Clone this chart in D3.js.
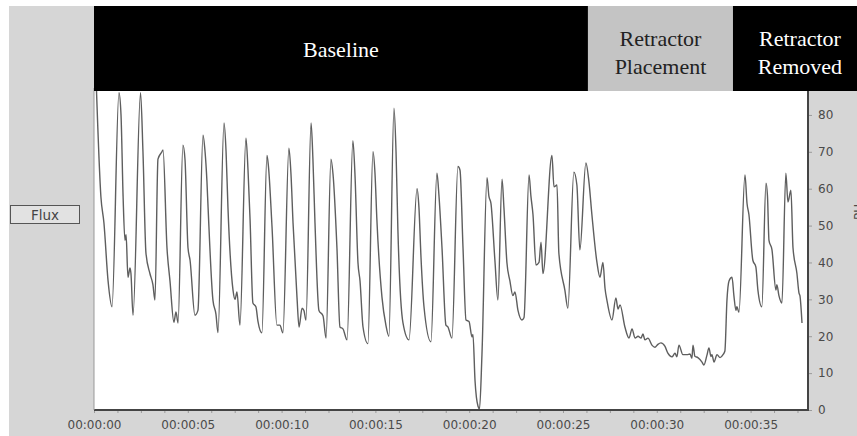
<!DOCTYPE html>
<html lang="en">
<head>
<meta charset="utf-8">
<title>Flux</title>
<style>
html,body{margin:0;padding:0;background:#fff;overflow:hidden;}
svg{display:block;}
.tick text{font-family:"DejaVu Sans",Verdana,sans-serif;font-size:12px;fill:#4a4a4a;}
.tick line{stroke:#9a9a9a;}
.domain{display:none;}
.hdr{font-family:"Liberation Serif","Times New Roman",serif;font-size:22px;}
</style>
</head>
<body>
<div id="chart"></div>
<script src="https://cdn.jsdelivr.net/npm/d3@7"></script>
<script>
/* ---------- data ---------- */
// seconds from start, flux (PU)
const timeSec = [0.11,0.37,0.53,0.75,0.96,1.33,1.44,1.55,1.65,1.71,1.81,1.92,1.97,2.08,2.48,2.61,2.77,2.98,3.14,3.25,
  3.41,3.62,3.68,3.89,4.05,4.26,4.37,4.48,4.74,4.85,5.01,5.12,5.38,5.54,5.81,5.92,6.02,6.08,6.34,6.50,
  6.61,6.93,7.04,7.14,7.41,7.52,7.62,7.78,8.10,8.21,8.32,8.47,8.63,8.74,8.95,9.22,9.30,9.49,9.75,9.91,
  10.07,10.39,10.50,10.61,10.82,10.93,11.09,11.19,11.30,11.57,11.67,11.78,11.99,12.21,12.37,12.63,12.74,12.95,13.11,13.27,
  13.49,13.80,13.91,14.07,14.18,14.34,14.60,14.87,14.98,15.08,15.35,15.56,15.72,15.99,16.10,16.20,16.47,16.79,17.22,17.32,
  17.43,17.59,17.96,18.28,18.39,18.55,18.76,18.87,19.08,19.40,19.51,19.67,19.83,19.99,20.15,20.20,20.31,20.47,20.55,20.68,
  20.95,21.05,21.16,21.37,21.53,21.75,21.85,22.01,22.17,22.33,22.44,22.60,22.81,22.92,23.19,23.29,23.40,23.56,23.72,23.83,
  23.93,24.41,24.52,24.68,24.78,25.10,25.26,25.58,25.74,25.90,26.22,26.38,26.54,26.81,26.97,27.13,27.24,27.34,27.61,27.82,
  27.93,28.04,28.30,28.52,28.68,28.84,29.00,29.16,29.26,29.37,29.53,29.74,29.90,30.06,30.22,30.43,30.59,30.81,30.97,31.07,
  31.18,31.39,31.61,31.77,31.87,31.93,32.03,32.19,32.41,32.51,32.67,32.78,32.89,32.94,33.05,33.21,33.37,33.53,33.63,33.74,
  33.85,34.01,34.11,34.22,34.27,34.38,34.70,34.81,34.91,35.12,35.28,35.39,35.60,35.82,35.90,35.98,36.14,36.35,36.40,36.51,
  36.67,36.88,36.99,37.15,37.26,37.47,37.58,37.63,37.74];
const flux = [90,57.7,50.7,35,28,86,80,58,46,47.5,36,38.5,37,25.7,86,70,42.5,37,34,29.8,
  68,70,70.5,44,35,23.8,26.6,23.6,71.8,68,44,40.6,25.7,27,74.5,70,62,55,29.8,26,
  21,77.8,70,55,32.5,30,32,23,73.7,65,51.5,29,28,24,20.9,69,66,49.6,23,23,
  20.9,71,64,50.7,30.6,22.5,27.6,27,24.4,77.8,68,50.7,27,25.5,19.5,68,64,44,22.5,22,
  19,73,64,40,35,22.5,18,70,64,51.5,30.6,23,20,81.8,70,48.8,23.6,19,60,55,
  41.5,28,18.5,64.2,58,44,23,22.5,19.5,66,65,44,24.4,24,19.8,20.5,8,1,0.3,15,
  63,58,56,40.6,29.8,62.6,55,40,35,31,32,27,24.4,25,63.7,58,53,39.3,40,45.5,
  37,69,60.5,61,42.5,32.5,27.6,64.5,61,43.4,67,62,53,40,36,40,33,29.8,24.4,30.4,
  27.4,28.5,22.5,19.5,22,19.5,20,19.5,20.6,19,19.5,17.6,17,17.8,18.2,17.3,15.4,14.4,15.4,14.4,
  17.6,15,15,15.2,14,17.6,14.6,14.2,13,12.2,14.8,16.8,14.5,15,13,15,14.2,15,16,29.8,
  35,36,31,27,28,26.5,63.7,56,53,40.6,38.8,32.5,28,61.5,58,46,43.4,32.5,34,31,
  29,64.2,56.4,59.6,44,37,31.7,31,23.6];

const phases     = ['Baseline', 'Retractor Placement', 'Retractor Removed'];
const phaseStart = [0, 26.33, 34.06];
const phaseEnd   = [26.33, 34.06, 41.2];
const phaseDark  = [true, false, true];

const xTicks = [0,5,10,15,20,25,30,35];
const yTicks = [0,10,20,30,40,50,60,70,80];

/* ---------- canvas ---------- */
const W = 857, H = 436;
const m = {left:94, right:49, top:88, bottom:26};
const iw = W - m.left - m.right, ih = H - m.top - m.bottom;

const svg = d3.select('#chart').append('svg').attr('width', W).attr('height', H);

// grey backdrop
svg.append('rect').attr('x', 9).attr('y', 6).attr('width', W - 9).attr('height', H - 6).attr('fill', '#d6d6d6');

const x = d3.scaleLinear().domain([0, 38.06]).range([m.left, m.left + iw]);
const y = d3.scaleLinear().domain([0, 87.3]).range([m.top + ih, m.top]);

// plot area
svg.append('rect').attr('x', m.left).attr('y', m.top).attr('width', iw).attr('height', ih).attr('fill', '#fff');
svg.append('clipPath').attr('id', 'clip').append('rect')
  .attr('x', m.left).attr('y', m.top).attr('width', iw).attr('height', ih);

/* ---------- trace ---------- */
const pts = timeSec.map((t, i) => [t, flux[i]]);
svg.append('path').datum(pts)
  .attr('clip-path', 'url(#clip)')
  .attr('fill', 'none').attr('stroke', '#5e5e5e').attr('stroke-width', 1.4)
  .attr('d', d3.line().x(d => x(d[0])).y(d => y(d[1])).curve(d3.curveMonotoneX));

/* ---------- axes ---------- */
const fmt = s => '00:00:' + String(s).padStart(2, '0');
svg.append('g').attr('transform', `translate(0,${m.top + ih})`)
  .call(d3.axisBottom(x).tickValues(d3.range(0, 38.1, 1.25)).tickSize(3).tickFormat(''));
svg.append('g').attr('transform', `translate(0,${m.top + ih})`)
  .call(d3.axisBottom(x).tickValues(xTicks).tickSize(0).tickPadding(10).tickFormat(fmt));

svg.append('g').attr('transform', `translate(${m.left + iw},0)`)
  .call(d3.axisRight(y).tickValues(yTicks).tickSize(4).tickPadding(6));

// frame lines
svg.append('line').attr('x1', m.left).attr('x2', m.left + iw + 1).attr('y1', m.top + ih).attr('y2', m.top + ih)
  .attr('stroke', '#444').attr('stroke-width', 2);
svg.append('line').attr('x1', m.left + iw).attr('x2', m.left + iw).attr('y1', m.top).attr('y2', m.top + ih + 1)
  .attr('stroke', '#444').attr('stroke-width', 2);
svg.append('line').attr('x1', m.left).attr('x2', m.left).attr('y1', m.top).attr('y2', m.top + ih)
  .attr('stroke', '#999').attr('stroke-width', 1);

// unit title on the right, cut off by the frame edge as in the source
svg.append('text').attr('transform', 'translate(863,212) rotate(-90)')
  .attr('text-anchor', 'middle').attr('font-family', 'DejaVu Sans').attr('font-size', 12)
  .attr('fill', '#4a4a4a').text('PU');

/* ---------- Flux button ---------- */
svg.append('rect').attr('x', 10.5).attr('y', 205.5).attr('width', 69).attr('height', 18)
  .attr('fill', '#e2e2e2').attr('stroke', '#555');
svg.append('text').attr('x', 45).attr('y', 220).attr('text-anchor', 'middle')
  .attr('font-family', 'DejaVu Sans').attr('font-size', 13.5).attr('fill', '#444').text('Flux');

/* ---------- phase header ---------- */
const hdr = svg.append('g');
phases.forEach((p, i) => {
  const x0 = x(phaseStart[i]), x1 = x(phaseEnd[i]);
  hdr.append('rect').attr('x', x0).attr('y', 6).attr('width', x1 - x0).attr('height', 85)
    .attr('fill', phaseDark[i] ? '#000' : '#c4c4c4');
  const words = p.split(' ');
  const t = hdr.append('text').attr('class', 'hdr').attr('text-anchor', 'middle')
    .attr('fill', phaseDark[i] ? '#fff' : '#222');
  const cx = i === 2 ? x0 + 67 : (x0 + x1) / 2;
  if (words.length === 1) {
    t.append('tspan').attr('x', cx).attr('y', 57).text(p);
  } else {
    t.append('tspan').attr('x', cx).attr('y', 46).text(words[0]);
    t.append('tspan').attr('x', cx).attr('y', 74).text(words[1]);
  }
});
</script>
</body>
</html>
